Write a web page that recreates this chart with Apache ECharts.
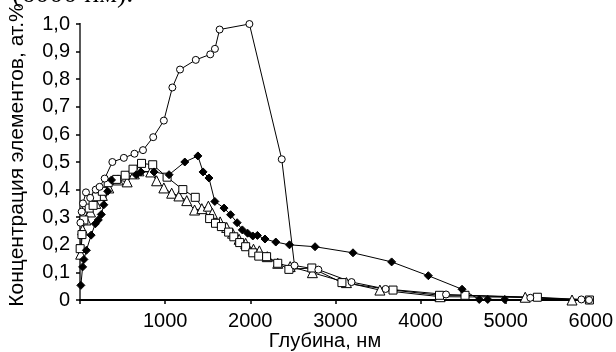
<!DOCTYPE html>
<html>
<head>
<meta charset="utf-8">
<script src="https://cdn.jsdelivr.net/npm/echarts@6/dist/echarts.min.js"></script>
<style>
html,body{margin:0;padding:0;background:#fff;}
#chart{width:616px;height:352px;}
</style>
</head>
<body>
<div id="chart"></div>
<script>
// X axis ticks
var xTicks = [0, 1000, 2000, 3000, 4000, 5000, 6000];
var yTicks = [0, 0.1, 0.2, 0.3, 0.4, 0.5, 0.6, 0.7, 0.8, 0.9, 1.0];

// Open circles
var circDepth = [5, 20, 35, 70, 120, 185, 230, 290, 380, 515, 640, 740, 860, 985, 1085, 1175, 1360, 1530, 1585, 1640, 1990, 2370, 2520, 2800, 3190, 3590, 4300, 5290, 5890, 5980];
var circConc  = [0.28, 0.32, 0.35, 0.39, 0.37, 0.40, 0.41, 0.44, 0.50, 0.515, 0.53, 0.543, 0.59, 0.65, 0.77, 0.835, 0.87, 0.89, 0.91, 0.98, 1.0, 0.51, 0.125, 0.11, 0.065, 0.04, 0.02, 0.008, 0.002, 0.0];

// Filled diamonds
var diaDepth = [10, 31, 46, 75, 131, 180, 215, 250, 280, 325, 370, 660, 715, 870, 1046, 1231, 1385, 1446, 1515, 1584, 1692, 1769, 1846, 1907, 1969, 2030, 2084, 2173, 2300, 2461, 2761, 3207, 3661, 4092, 4488, 4690, 4790, 4990];
var diaConc  = [0.053, 0.12, 0.147, 0.18, 0.235, 0.276, 0.29, 0.31, 0.345, 0.394, 0.435, 0.454, 0.464, 0.464, 0.454, 0.50, 0.522, 0.464, 0.442, 0.357, 0.333, 0.309, 0.28, 0.254, 0.242, 0.232, 0.234, 0.221, 0.21, 0.20, 0.193, 0.171, 0.138, 0.088, 0.039, 0.002, 0.002, 0.002];

// Open squares
var sqDepth = [2, 23, 46, 108, 154, 192, 262, 331, 431, 531, 623, 723, 854, 1023, 1208, 1354, 1523, 1592, 1661, 1746, 1807, 1876, 1946, 2030, 2100, 2192, 2323, 2454, 2723, 3077, 3677, 4223, 4523, 5373, 5984];
var sqConc  = [0.186, 0.237, 0.29, 0.333, 0.343, 0.374, 0.394, 0.425, 0.437, 0.452, 0.474, 0.495, 0.49, 0.445, 0.40, 0.372, 0.295, 0.278, 0.266, 0.246, 0.229, 0.208, 0.193, 0.171, 0.159, 0.157, 0.133, 0.111, 0.116, 0.063, 0.036, 0.017, 0.017, 0.01, 0.0];

// Open triangles
var triDepth = [8, 31, 69, 123, 185, 262, 338, 446, 554, 638, 692, 831, 900, 985, 1077, 1162, 1254, 1346, 1431, 1508, 1554, 1646, 1723, 1792, 1869, 1946, 2038, 2107, 2200, 2323, 2469, 2730, 3130, 3523, 4230, 5230, 5780];
var triConc  = [0.166, 0.254, 0.29, 0.319, 0.35, 0.379, 0.406, 0.435, 0.428, 0.457, 0.468, 0.464, 0.432, 0.406, 0.387, 0.377, 0.36, 0.326, 0.331, 0.34, 0.314, 0.283, 0.263, 0.242, 0.22, 0.205, 0.184, 0.178, 0.157, 0.133, 0.121, 0.099, 0.063, 0.036, 0.012, 0.01, 0.0];

var xName = 'Глубина, нм';
var yName = 'Концентрация элементов, ат.%';
var captionText = '(6000 нм).';

function zip(a, b) { return a.map(function (v, i) { return [v, b[i]]; }); }

var FONT = '"Liberation Sans", Arial, sans-serif';
var chart = echarts.init(document.getElementById('chart'), null, {renderer: 'canvas'});

function mkSeries(name, xs, ys, symbol, size, fill) {
  return {
    name: name, type: 'line', data: zip(xs, ys),
    symbol: symbol, symbolSize: size,
    showAllSymbol: true,
    lineStyle: {color: '#000', width: 1},
    itemStyle: {color: fill, borderColor: '#000', borderWidth: 1},
    z: 3
  };
}

chart.setOption({
  animation: false,
  backgroundColor: '#fff',
  grid: {left: 80, right: 17, top: 24, bottom: 52, containLabel: false},
  xAxis: [{
    type: 'value', min: xTicks[0], max: xTicks[xTicks.length - 1], interval: xTicks[1] - xTicks[0],
    axisLine: {show: true, onZero: false, lineStyle: {color: '#000', width: 2}},
    axisTick: {show: true, length: 4, lineStyle: {color: '#000', width: 1.5}},
    axisLabel: {color: '#000', fontSize: 20, fontFamily: FONT, margin: 11,
      formatter: function (v) { return v === 0 ? '' : String(v); }},
    splitLine: {show: false}
  }, {
    type: 'value', position: 'top', min: xTicks[0], max: xTicks[xTicks.length - 1],
    axisLine: {show: true, lineStyle: {color: '#000', width: 1.5}},
    axisTick: {show: false}, axisLabel: {show: false}, splitLine: {show: false}
  }],
  yAxis: [{
    type: 'value', min: yTicks[0], max: yTicks[yTicks.length - 1], interval: 0.1,
    axisLine: {show: true, onZero: false, lineStyle: {color: '#000', width: 2}},
    axisTick: {show: true, length: 4, lineStyle: {color: '#000', width: 1.5}},
    axisLabel: {color: '#000', fontSize: 20, fontFamily: FONT, margin: 10,
      formatter: function (v) { return v === 0 ? '0' : v.toFixed(1).replace('.', ','); }},
    splitLine: {show: false}
  }, {
    type: 'value', position: 'right', min: 0, max: 1,
    axisLine: {show: true, lineStyle: {color: '#777', width: 1.5}},
    axisTick: {show: false}, axisLabel: {show: false}, splitLine: {show: false}
  }],
  graphic: [{
    type: 'text', x: 17, y: 155, rotation: Math.PI / 2,
    style: {text: yName, font: '21px ' + FONT, fill: '#000', align: 'center', verticalAlign: 'middle'}
  }, {
    type: 'text', x: 325, y: 341,
    style: {text: xName, font: '20px ' + FONT, fill: '#000', align: 'center', verticalAlign: 'middle'}
  }, {
    type: 'text', x: 12, y: -19,
    style: {text: captionText, font: '28px "Liberation Serif", "Times New Roman", serif', fill: '#000', align: 'left', verticalAlign: 'top'}
  }],
  series: [
    mkSeries('tri', triDepth, triConc, 'triangle', 10, '#fff'),
    mkSeries('sq', sqDepth, sqConc, 'rect', 8, '#fff'),
    mkSeries('dia', diaDepth, diaConc, 'diamond', 8, '#000'),
    mkSeries('circ', circDepth, circConc, 'circle', 7, '#fff')
  ]
});
</script>
</body>
</html>
